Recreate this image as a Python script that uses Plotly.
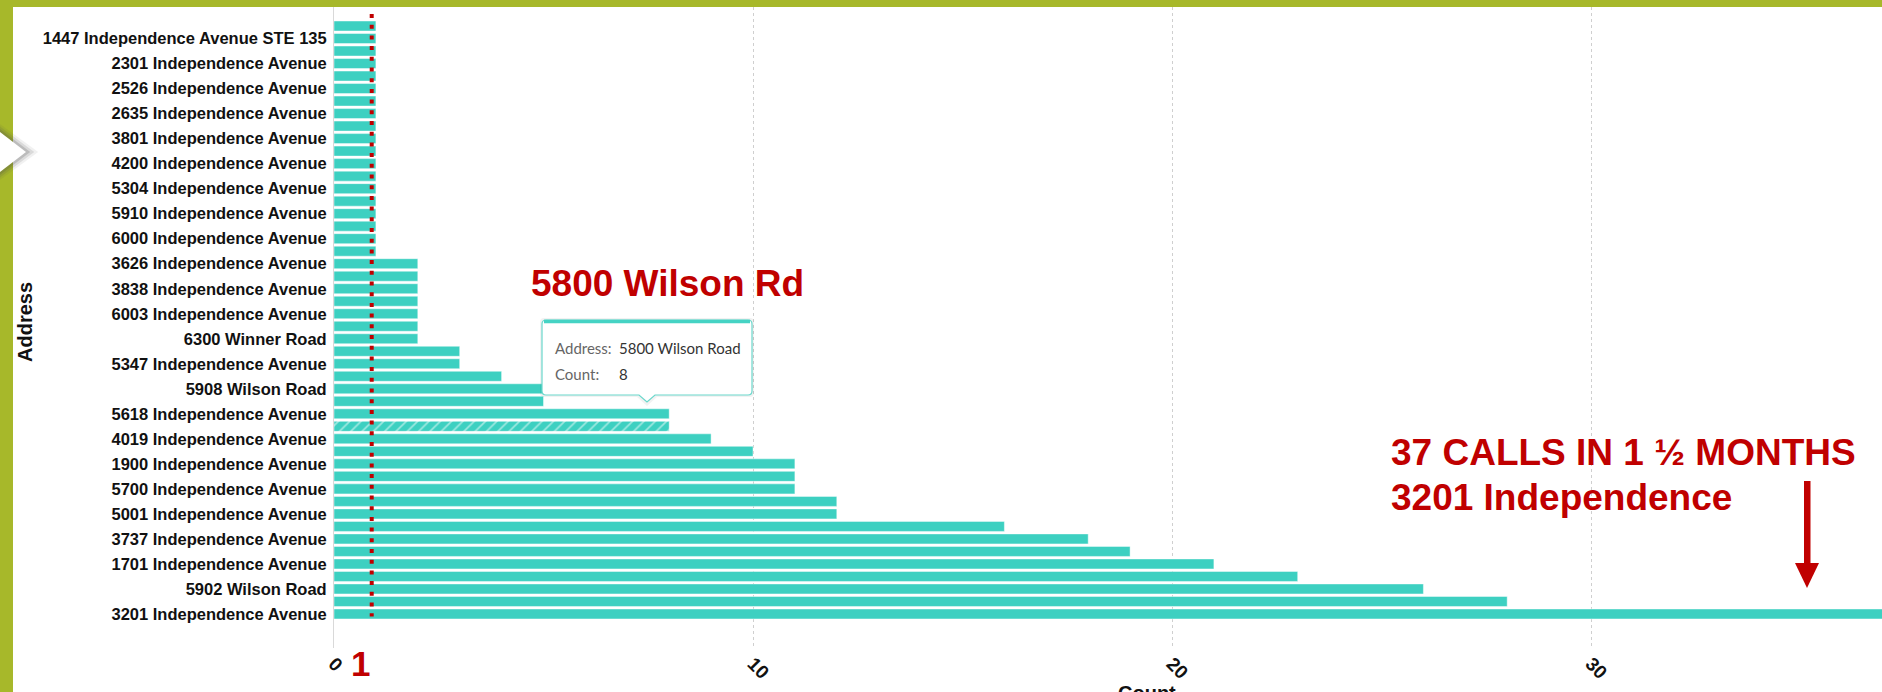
import plotly.graph_objects as go

# ---------------- data (top row first, as in the picture) ----------------
addresses = [
    "Unlabeled row 01",
    "1447 Independence Avenue STE 135",
    "Unlabeled row 03",
    "2301 Independence Avenue",
    "Unlabeled row 05",
    "2526 Independence Avenue",
    "Unlabeled row 07",
    "2635 Independence Avenue",
    "Unlabeled row 09",
    "3801 Independence Avenue",
    "Unlabeled row 11",
    "4200 Independence Avenue",
    "Unlabeled row 13",
    "5304 Independence Avenue",
    "Unlabeled row 15",
    "5910 Independence Avenue",
    "Unlabeled row 17",
    "6000 Independence Avenue",
    "Unlabeled row 19",
    "3626 Independence Avenue",
    "Unlabeled row 21",
    "3838 Independence Avenue",
    "Unlabeled row 23",
    "6003 Independence Avenue",
    "Unlabeled row 25",
    "6300 Winner Road",
    "Unlabeled row 27",
    "5347 Independence Avenue",
    "Unlabeled row 29",
    "5908 Wilson Road",
    "Unlabeled row 31",
    "5618 Independence Avenue",
    "5800 Wilson Road",
    "4019 Independence Avenue",
    "Unlabeled row 35",
    "1900 Independence Avenue",
    "Unlabeled row 37",
    "5700 Independence Avenue",
    "Unlabeled row 39",
    "5001 Independence Avenue",
    "Unlabeled row 41",
    "3737 Independence Avenue",
    "Unlabeled row 43",
    "1701 Independence Avenue",
    "Unlabeled row 45",
    "5902 Wilson Road",
    "Unlabeled row 47",
    "3201 Independence Avenue",
]
counts = [1, 1, 1, 1, 1, 1, 1, 1, 1, 1, 1, 1, 1, 1, 1, 1, 1, 1, 1,
          2, 2, 2, 2, 2, 2, 2,
          3, 3, 4, 5, 5, 8, 8, 9, 10, 11, 11, 11, 12, 12,
          16, 18, 19, 21, 23, 26, 28, 37]
labeled_addresses = [a for a in addresses if not a.startswith("Unlabeled")
                     and a != "5800 Wilson Road"]
highlight_address = "5800 Wilson Road"
highlight_count = 8
x_ticks = [0, 10, 20, 30]
reference_value = 0.9

# ---------------- styling ----------------
TEAL = "#3dd0c1"
RED = "#c00000"
OLIVE = "#a7b82a"
W, H = 1882, 692
L, R, T, B = 334, 1882, 7, 648


def px2x(px):
    return (px - L) / (R - L)


def py2y(py):
    return (B - py) / (B - T)


patterns = ["/" if a == highlight_address else "" for a in addresses]

fig = go.Figure()
fig.add_trace(go.Bar(
    y=addresses, x=counts, orientation="h",
    marker=dict(color=TEAL,
                line=dict(color="rgba(255,255,255,0.45)", width=1),
                pattern=dict(shape=patterns, fgcolor="white",
                             size=8, solidity=0.22)),
    hoverinfo="skip",
))

shapes = []
# white slide area over the olive frame
shapes.append(dict(type="rect", xref="paper", yref="paper",
                   x0=px2x(13), x1=px2x(W + 5), y0=py2y(7), y1=py2y(H + 5),
                   fillcolor="white", line=dict(width=0), layer="below"))
# red reference line
shapes.append(dict(type="line", xref="x", yref="y",
                   x0=reference_value, x1=reference_value, y0=-0.96, y1=47.2,
                   line=dict(color=RED, width=4, dash="4px,6.7px")))
# arrow (shaft + head)
shapes.append(dict(type="rect", xref="paper", yref="paper",
                   x0=px2x(1804), x1=px2x(1810.5), y0=py2y(481), y1=py2y(565),
                   fillcolor=RED, line=dict(width=0)))
shapes.append(dict(type="path", xref="paper", yref="paper",
                   path=f"M{px2x(1795)},{py2y(563)} L{px2x(1819)},{py2y(563)} "
                        f"L{px2x(1807)},{py2y(588)} Z",
                   fillcolor=RED, line=dict(width=0)))
# tooltip box
bx0, bx1, by0, by1, rr = 542, 752, 320, 395, 4
tip = 647


def tooltip_path(d):
    x0, x1, y0, y1 = bx0 - d, bx1 + d, by0 - d, by1 + d
    return (
        f"M{px2x(x0 + rr)},{py2y(y0)} L{px2x(x1 - rr)},{py2y(y0)} "
        f"Q{px2x(x1)},{py2y(y0)} {px2x(x1)},{py2y(y0 + rr)} "
        f"L{px2x(x1)},{py2y(y1 - rr)} "
        f"Q{px2x(x1)},{py2y(y1)} {px2x(x1 - rr)},{py2y(y1)} "
        f"L{px2x(tip + 8 + d)},{py2y(y1)} L{px2x(tip)},{py2y(y1 + 7 + d)} "
        f"L{px2x(tip - 8 - d)},{py2y(y1)} "
        f"L{px2x(x0 + rr)},{py2y(y1)} "
        f"Q{px2x(x0)},{py2y(y1)} {px2x(x0)},{py2y(y1 - rr)} "
        f"L{px2x(x0)},{py2y(y0 + rr)} "
        f"Q{px2x(x0)},{py2y(y0)} {px2x(x0 + rr)},{py2y(y0)} Z")


shapes.append(dict(type="path", xref="paper", yref="paper", path=tooltip_path(2),
                   fillcolor="rgba(0,0,0,0.05)", line=dict(width=0)))
shapes.append(dict(type="path", xref="paper", yref="paper", path=tooltip_path(0),
                   fillcolor="white", line=dict(color="#6ad8cc", width=1.2)))
shapes.append(dict(type="line", xref="paper", yref="paper",
                   x0=px2x(bx0 + 2), x1=px2x(bx1 - 2), y0=py2y(by0 + 1.5), y1=py2y(by0 + 1.5),
                   line=dict(color="#45d3c4", width=3.5)))
# white triangle (with soft shadow) at the left edge of the slide
for d, op in [(7, 0.08), (4.5, 0.14), (2, 0.22)]:
    shapes.append(dict(type="path", xref="paper", yref="paper",
                       path=f"M{px2x(0)},{py2y(131 - d)} L{px2x(27 + 1.6 * d)},{py2y(152)} "
                            f"L{px2x(0)},{py2y(173 + d)} Z",
                       fillcolor=f"rgba(80,80,80,{op})", line=dict(width=0)))
shapes.append(dict(type="path", xref="paper", yref="paper",
                   path=f"M{px2x(0)},{py2y(132)} L{px2x(26)},{py2y(152)} L{px2x(0)},{py2y(172)} Z",
                   fillcolor="white", line=dict(width=0)))

ann = []
BIG = dict(family="Liberation Sans, Arial, sans-serif", size=37, color=RED, weight=700)
ann.append(dict(xref="paper", yref="paper", x=px2x(529), y=py2y(284),
                xanchor="left", yanchor="middle", text="5800 Wilson Rd",
                showarrow=False, font=BIG))
ann.append(dict(xref="paper", yref="paper", x=px2x(1389), y=py2y(452),
                xanchor="left", yanchor="middle", text="37 CALLS IN 1 ½ MONTHS",
                showarrow=False, font=BIG))
ann.append(dict(xref="paper", yref="paper", x=px2x(1389), y=py2y(497),
                xanchor="left", yanchor="middle", text="3201 Independence",
                showarrow=False, font=BIG))
ann.append(dict(xref="paper", yref="paper", x=px2x(360), y=py2y(664),
                xanchor="center", yanchor="middle", text="1",
                showarrow=False,
                font=dict(family="Liberation Sans, Arial, sans-serif", size=35,
                          color=RED, weight=700)))
TIP_LBL = dict(family="Lato, sans-serif", size=15, color="#666666")
TIP_VAL = dict(family="Lato, sans-serif", size=15, color="#333333")
ann.append(dict(xref="paper", yref="paper", x=px2x(553), y=py2y(348),
                xanchor="left", yanchor="middle", text="Address:",
                showarrow=False, font=TIP_LBL))
ann.append(dict(xref="paper", yref="paper", x=px2x(617), y=py2y(348),
                xanchor="left", yanchor="middle", text=highlight_address,
                showarrow=False, font=TIP_VAL))
ann.append(dict(xref="paper", yref="paper", x=px2x(553), y=py2y(374),
                xanchor="left", yanchor="middle", text="Count:",
                showarrow=False, font=TIP_LBL))
ann.append(dict(xref="paper", yref="paper", x=px2x(617), y=py2y(374),
                xanchor="left", yanchor="middle", text=str(highlight_count),
                showarrow=False, font=TIP_VAL))
AX_T = dict(family="Liberation Sans, Arial, sans-serif", size=20, color="#111111", weight=700)
ann.append(dict(xref="paper", yref="paper", x=px2x(25), y=py2y(322),
                xanchor="center", yanchor="middle", text="Address", textangle=-90,
                showarrow=False, font=AX_T))
ann.append(dict(xref="paper", yref="paper", x=px2x(1147), y=py2y(693),
                xanchor="center", yanchor="middle", text="Count",
                showarrow=False, font=AX_T))

fig.update_layout(
    width=W, height=H,
    margin=dict(l=L, r=W - R, t=T, b=H - B, pad=0),
    paper_bgcolor=OLIVE, plot_bgcolor="white",
    showlegend=False, bargap=0.2, hovermode=False,
    shapes=shapes, annotations=ann,
    xaxis=dict(range=[0, (R - L) / 41.9], tickmode="array", tickvals=x_ticks,
               tickangle=45, showgrid=True, gridcolor="#cfcfcf", griddash="dot",
               gridwidth=1, zeroline=False, showline=False, ticks="",
               ticklabelstandoff=0,
               tickfont=dict(family="Liberation Sans, Arial, sans-serif", size=19,
                             color="#111111", weight=700)),
    yaxis=dict(type="category", categoryorder="array", categoryarray=addresses,
               range=[49.72, -1.52], tickmode="array", tickvals=labeled_addresses,
               ticktext=labeled_addresses, showgrid=False, zeroline=False,
               showline=True, linecolor="#d9d9d9", linewidth=1, ticks="",
               ticklabelstandoff=3,
               tickfont=dict(family="Liberation Sans, Arial, sans-serif", size=16.5,
                             color="#111111", weight=700)),
)

fig.write_html(
    "out.html",
    config={"displayModeBar": False},
    post_script="document.body.style.margin='0';document.body.style.overflow='hidden';"
                "document.body.style.background='#ffffff';",
)
